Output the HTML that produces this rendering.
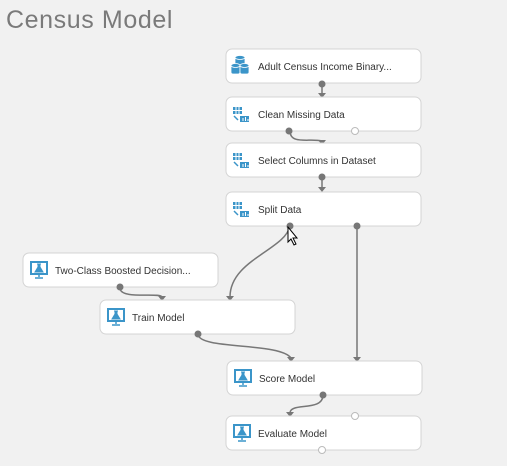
<!DOCTYPE html>
<html><head><style>
html,body{margin:0;padding:0;background:#f1f1f1;width:507px;height:466px;overflow:hidden}
svg{display:block}
text{font-family:"Liberation Sans",sans-serif}
</style></head><body>
<svg width="507" height="466" xmlns="http://www.w3.org/2000/svg">
<rect width="507" height="466" fill="#f1f1f1"/>
<text x="6" y="28" font-size="25" fill="#7a7a7a" letter-spacing="0.6">Census Model</text>
<defs>
<g id="node"><rect x="0" y="0" width="195" height="34" rx="6" fill="#fff" stroke="#d4d4d4"/></g>
<g id="mon"><rect x="0" y="0" width="16" height="12" fill="none" stroke="#3b95c9" stroke-width="2"/><path d="M6 2h4M7 2v3l-3 5h8l-3-5V2" fill="#3b95c9" stroke="#3b95c9" stroke-width="1"/><path d="M8 12v3M4 16h8" stroke="#3b95c9" stroke-width="1.5"/></g>
<g id="tbl"><rect x="0" y="0" width="9" height="7" fill="#3b95c9"/><path d="M3 0v7M6 0v7M0 3.5h9" stroke="#fff" stroke-width="1"/><path d="M1 9l4 4" stroke="#3b95c9" stroke-width="1.5"/><rect x="7" y="9" width="9" height="6" fill="#3b95c9"/><path d="M10 14v-3M12.5 14v-4M15 14v-2" stroke="#fff"/></g>
</defs>
<g fill="none" stroke="#777" stroke-width="1.5">
<path d="M322 87V95"/>
<path d="M290 131C290 145 310 138 322 141"/>
<path d="M322 180V189"/>
<path d="M290 226C285 250 230 260 230 297"/>
<path d="M357 226V358"/>
<path d="M120 288C120 300 160 292 162 297"/>
<path d="M198 334C198 350 280 342 291 358"/>
<path d="M323 395C323 412 290 402 290 413"/>
</g>
<g fill="#777">
<path d="M318 93h8l-4 5z"/><path d="M318 140h8l-4 5z"/><path d="M318 187h8l-4 5z"/>
<path d="M226 296h8l-4 5z"/><path d="M158 296h8l-4 5z"/><path d="M287 357h8l-4 5z"/><path d="M353 357h8l-4 5z"/><path d="M286 412h8l-4 5z"/>
</g>
<g transform="translate(226,49)"><use href="#node"/><text x="32" y="21" font-size="10" fill="#333">Adult Census Income Binary...</text>
<g fill="#3b95c9" stroke="#fff" stroke-width="0.8"><rect x="9" y="8" width="10" height="8" rx="2"/><ellipse cx="14" cy="8.5" rx="5" ry="2"/><rect x="5" y="16" width="9" height="9" rx="2"/><ellipse cx="9.5" cy="16.5" rx="4.5" ry="2"/><rect x="14" y="16" width="9" height="9" rx="2"/><ellipse cx="18.5" cy="16.5" rx="4.5" ry="2"/></g></g>
<g transform="translate(226,97)"><use href="#node"/><text x="32" y="21" font-size="10" fill="#333">Clean Missing Data</text><use href="#tbl" x="7" y="10"/></g>
<g transform="translate(226,143)"><use href="#node"/><text x="32" y="21" font-size="10" fill="#333">Select Columns in Dataset</text><use href="#tbl" x="7" y="10"/></g>
<g transform="translate(226,192)"><use href="#node"/><text x="32" y="21" font-size="10" fill="#333">Split Data</text><use href="#tbl" x="7" y="10"/></g>
<g transform="translate(23,253)"><use href="#node"/><text x="32" y="21" font-size="10" fill="#333">Two-Class Boosted Decision...</text><use href="#mon" x="8" y="9"/></g>
<g transform="translate(100,300)"><use href="#node"/><text x="32" y="21" font-size="10" fill="#333">Train Model</text><use href="#mon" x="8" y="9"/></g>
<g transform="translate(227,361)"><use href="#node"/><text x="32" y="21" font-size="10" fill="#333">Score Model</text><use href="#mon" x="8" y="9"/></g>
<g transform="translate(226,416)"><use href="#node"/><text x="32" y="21" font-size="10" fill="#333">Evaluate Model</text><use href="#mon" x="8" y="9"/></g>
<g fill="#777">
<circle cx="322" cy="84" r="3.5"/><circle cx="289" cy="131" r="3.5"/><circle cx="322" cy="177" r="3.5"/><circle cx="290" cy="226" r="3.5"/><circle cx="357" cy="226" r="3.5"/><circle cx="120" cy="287" r="3.5"/><circle cx="198" cy="334" r="3.5"/><circle cx="323" cy="395" r="3.5"/>
</g>
<g fill="#fff" stroke="#bbb"><circle cx="355" cy="131" r="3.5"/><circle cx="355" cy="416" r="3.5"/><circle cx="322" cy="450" r="3.5"/></g>
<path d="M288 227v15l3-3 3 6 2-1-3-6h4z" fill="#fff" stroke="#000" stroke-width="1"/>
</svg>
</body></html>
